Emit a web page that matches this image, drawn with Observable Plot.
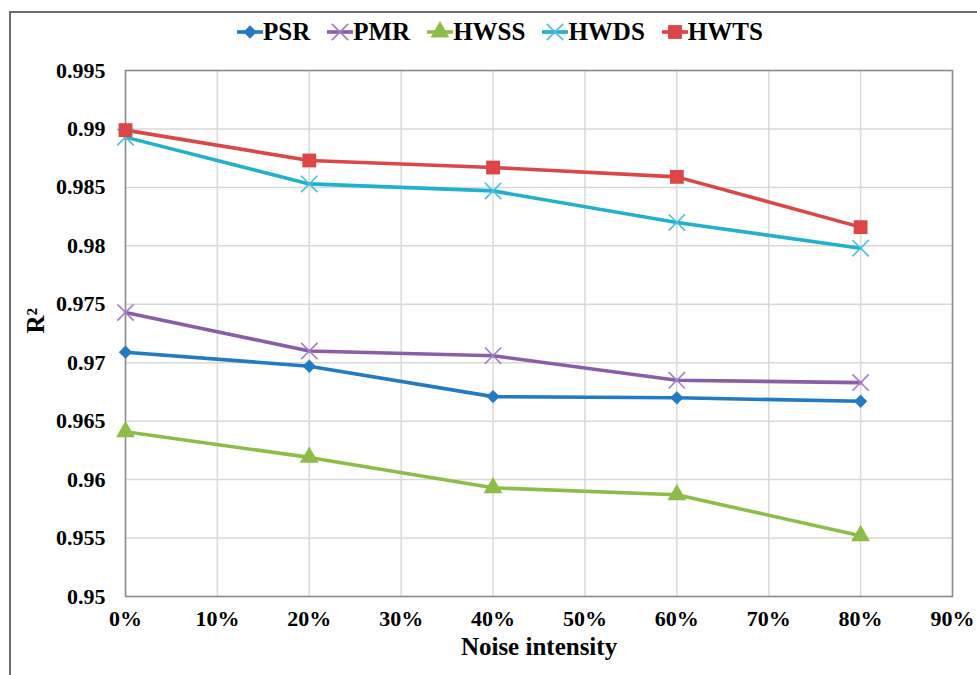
<!DOCTYPE html>
<html>
<head>
<meta charset="utf-8">
<script src="https://cdn.jsdelivr.net/npm/d3@7"></script>
<script src="https://cdn.jsdelivr.net/npm/@observablehq/plot@0.6"></script>
<style>
  html, body { margin: 0; padding: 0; background: #fff; }
  #wrap { position: relative; width: 977px; height: 675px; overflow: hidden; font-family: "Liberation Serif", serif; }
  #frame { position: absolute; left: 9px; top: 11px; width: 1100px; height: 800px; border: 2px solid #6e6e6e; box-sizing: border-box; }
  #legend { position: absolute; left: 237px; top: 18px; display: flex; align-items: center; font-weight: bold; font-size: 25px; color: #000; font-family: "Liberation Serif", serif; }
  #legend .item { display: flex; align-items: center; margin-right: 17px; }
  #legend svg { display: block; }
  #chart { position: absolute; left: 0; top: 0; }
  #chart svg text { font-family: "Liberation Serif", serif; }
</style>
</head>
<body>
<div id="wrap">
  <div id="frame"></div>
  <div id="chart"></div>
  <div id="legend"></div>
</div>
<script>
// ---- data ----
const noise = [0, 0.2, 0.4, 0.6, 0.8];
const seriesNames = ["PSR", "PMR", "HWSS", "HWDS", "HWTS"];
const PSR  = [0.9709, 0.9697, 0.9671, 0.9670, 0.9667];
const PMR  = [0.9743, 0.9710, 0.9706, 0.9685, 0.9683];
const HWSS = [0.9641, 0.9619, 0.9593, 0.9587, 0.9552];
const HWDS = [0.9893, 0.9853, 0.9847, 0.9820, 0.9798];
const HWTS = [0.9899, 0.9873, 0.9867, 0.9859, 0.9816];
const xTicks = [0, 0.1, 0.2, 0.3, 0.4, 0.5, 0.6, 0.7, 0.8, 0.9];
const yTicks = [0.95, 0.955, 0.96, 0.965, 0.97, 0.975, 0.98, 0.985, 0.99, 0.995];
const xLabel = "Noise intensity";
const yLabel = "R\u00b2";

// ---- styles ----
const lineColor = {PSR: "#217ac2", PMR: "#8b5ca8", HWSS: "#8cbd48", HWDS: "#22b0cd", HWTS: "#dc4646"};
const markColor = {PSR: "#217ac2", PMR: "#a57cc4", HWSS: "#8cbd48", HWDS: "#44c1dc", HWTS: "#dc4646"};
const symbolOf = {PSR: "diamond2", PMR: "times", HWSS: "triangle", HWDS: "times", HWTS: "square"};
const rOf = {PSR: 6, PMR: 7.5, HWSS: 7, HWDS: 7.5, HWTS: 7.8};

const valuesOf = {PSR, PMR, HWSS, HWDS, HWTS};
const rows = [];
for (const s of seriesNames) noise.forEach((x, i) => rows.push({series: s, x, y: valuesOf[s][i]}));

const font = '"Liberation Serif", serif';
const fmtY = d => String(+d.toFixed(3));

const marks = [
  Plot.gridX(xTicks, {stroke: "#d9d9d9", strokeOpacity: 1, strokeWidth: 1.5}),
  Plot.gridY(yTicks, {stroke: "#d9d9d9", strokeOpacity: 1, strokeWidth: 1.5}),
  Plot.frame({stroke: "#8a8a8a", strokeWidth: 1.5}),
  Plot.axisX(xTicks, {tickSize: 0, tickPadding: 14, tickFormat: d3.format(".0%"), fontSize: 22, fontWeight: "bold", fontFamily: font, fill: "#000", label: null}),
  Plot.axisY(yTicks, {tickSize: 0, tickPadding: 20, tickFormat: fmtY, fontSize: 22, fontWeight: "bold", fontFamily: font, fill: "#000", label: null}),
  Plot.text([xLabel], {frameAnchor: "bottom", dy: 58, fontSize: 25, fontWeight: "bold", fontFamily: font, fill: "#000", text: d => d}),
  Plot.text([yLabel], {frameAnchor: "left", dx: -90, rotate: -90, fontSize: 25, fontWeight: "bold", fontFamily: font, fill: "#000", text: d => d})
];
for (const s of seriesNames) {
  const data = rows.filter(r => r.series === s);
  marks.push(Plot.line(data, {x: "x", y: "y", stroke: lineColor[s], strokeWidth: 3.6}));
}
for (const s of seriesNames) {
  const data = rows.filter(r => r.series === s);
  const sym = symbolOf[s];
  if (sym === "times") {
    marks.push(Plot.dot(data, {x: "x", y: "y", symbol: () => sym, r: rOf[s], stroke: markColor[s], strokeWidth: 1.6, fill: "none"}));
  } else {
    marks.push(Plot.dot(data, {x: "x", y: "y", symbol: () => sym, r: rOf[s], fill: markColor[s], stroke: "none"}));
  }
}

const chart = Plot.plot({
  width: 977,
  height: 675,
  marginTop: 70,
  marginBottom: 79,
  marginLeft: 125,
  marginRight: 25,
  style: {fontFamily: font, background: "transparent", overflow: "visible"},
  x: {domain: [0, 0.9], axis: null},
  y: {domain: [0.95, 0.995], axis: null},
  symbol: {type: "identity"},
  marks
});
document.getElementById("chart").appendChild(chart);

// ---- legend ----
const legend = d3.select("#legend");
const d3Sym = {diamond2: d3.symbolDiamond2, times: d3.symbolTimes, triangle: d3.symbolTriangle, square: d3.symbolSquare};
for (const s of seriesNames) {
  const item = legend.append("div").attr("class", "item");
  const svg = item.append("svg").attr("width", 26).attr("height", 24);
  svg.append("line").attr("x1", 0).attr("x2", 26).attr("y1", 12).attr("y2", 12)
    .attr("stroke", lineColor[s]).attr("stroke-width", 3.6);
  const size = Math.PI * rOf[s] * rOf[s];
  const p = svg.append("path").attr("transform", "translate(13,12)")
    .attr("d", d3.symbol(d3Sym[symbolOf[s]], size)());
  if (symbolOf[s] === "times") p.attr("fill", "none").attr("stroke", markColor[s]).attr("stroke-width", 1.6);
  else p.attr("fill", markColor[s]);
  item.append("span").text(s);
}
</script>
</body>
</html>
